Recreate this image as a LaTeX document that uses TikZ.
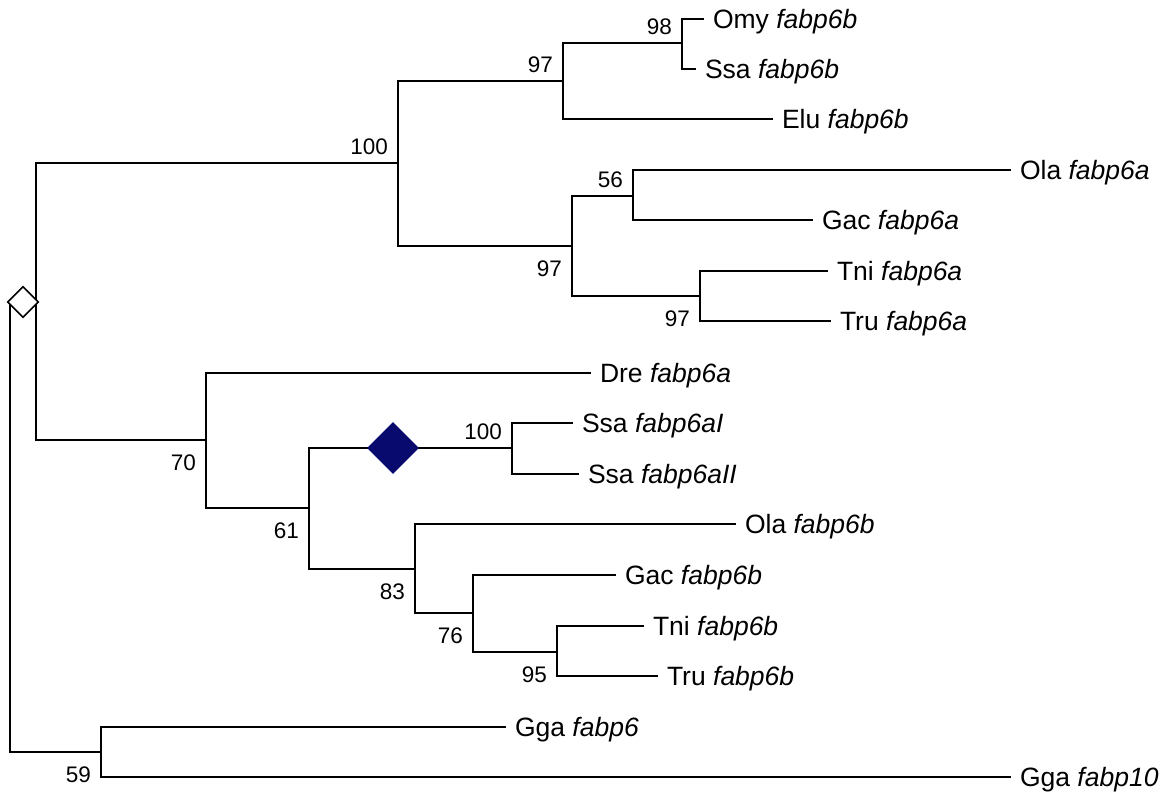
\documentclass[tikz,border=0pt]{standalone}
\usepackage{fontspec}
\setmainfont{Liberation Sans}
\usetikzlibrary{shapes.geometric}
\definecolor{navy}{RGB}{8,10,110}
\tikzset{
  br/.style={line width=2pt, line cap=rect},
  leaf/.style={anchor=west, inner sep=0pt, outer xsep=10pt, outer ysep=0pt,
    font=\fontsize{26.5}{30}\selectfont, text height=19pt, text depth=0pt},
  bsabove/.style={anchor=south east, inner sep=0pt, xshift=-10pt, yshift=8pt,
    font=\fontsize{22.5}{26}\selectfont, text height=16pt, text depth=0pt},
  bsbelow/.style={anchor=north east, inner sep=0pt, xshift=-10pt, yshift=-14pt,
    font=\fontsize{22.5}{26}\selectfont, text height=16pt, text depth=0pt},
  dup/.style={diamond, inner sep=0pt, minimum width=52pt, minimum height=52pt, fill=navy},
  wdup/.style={diamond, inner sep=0pt, minimum width=31pt, minimum height=31pt, fill=white, draw=black, line width=1.6pt}
}
\begin{document}
\begin{tikzpicture}[x=1pt,y=-1pt]
\useasboundingbox[fill=white] (0,0) rectangle (1169,795);
% internal nodes (x, y of parent branch)
\coordinate (root) at (10,302);
\coordinate (up) at (36,302);
\coordinate (A) at (398,163);
\coordinate (A1) at (563,81);
\coordinate (A11) at (682,43);
\coordinate (A2) at (572,246);
\coordinate (A21) at (633,196);
\coordinate (A22) at (700,296);
\coordinate (B) at (206,440);
\coordinate (B2) at (309,508);
\coordinate (B21) at (512,448);
\coordinate (B22) at (415,569);
\coordinate (B221) at (473,613);
\coordinate (B2211) at (557,652);
\coordinate (G) at (101,752);
% leaves
\node[leaf] (omy) at (703,19) {Omy \textit{fabp6b}};
\node[leaf] (ssab) at (695,69) {Ssa \textit{fabp6b}};
\node[leaf] (elu) at (772,119) {Elu \textit{fabp6b}};
\node[leaf] (olaa) at (1010,170) {Ola \textit{fabp6a}};
\node[leaf] (gaca) at (812,220) {Gac \textit{fabp6a}};
\node[leaf] (tnia) at (827,271) {Tni \textit{fabp6a}};
\node[leaf] (trua) at (830,321) {Tru \textit{fabp6a}};
\node[leaf] (dre) at (590,373) {Dre \textit{fabp6a}};
\node[leaf] (ssaI) at (572,423) {Ssa \textit{fabp6aI}};
\node[leaf] (ssaII) at (578,474) {Ssa \textit{fabp6aII}};
\node[leaf] (olab) at (735,524) {Ola \textit{fabp6b}};
\node[leaf] (gacb) at (615,575) {Gac \textit{fabp6b}};
\node[leaf] (tnib) at (643,626) {Tni \textit{fabp6b}};
\node[leaf] (trub) at (657,676) {Tru \textit{fabp6b}};
\node[leaf] (gga6) at (505,727) {Gga \textit{fabp6}};
\node[leaf] (gga10) at (1010,777) {Gga \textit{fabp10}};
% branches
\draw[br] (root) |- (G);
\draw[br] (root) -- (up);
\draw[br] (up) |- (A);
\draw[br] (up) |- (B);
\draw[br] (A) |- (A1);
\draw[br] (A) |- (A2);
\draw[br] (A1) |- (A11);
\draw[br] (A1) |- (elu.west);
\draw[br] (A11) |- (omy.west);
\draw[br] (A11) |- (ssab.west);
\draw[br] (A2) |- (A21);
\draw[br] (A2) |- (A22);
\draw[br] (A21) |- (olaa.west);
\draw[br] (A21) |- (gaca.west);
\draw[br] (A22) |- (tnia.west);
\draw[br] (A22) |- (trua.west);
\draw[br] (B) |- (dre.west);
\draw[br] (B) |- (B2);
\draw[br] (B2) |- (B21);
\draw[br] (B2) |- (B22);
\draw[br] (B21) |- (ssaI.west);
\draw[br] (B21) |- (ssaII.west);
\draw[br] (B22) |- (olab.west);
\draw[br] (B22) |- (B221);
\draw[br] (B221) |- (gacb.west);
\draw[br] (B221) |- (B2211);
\draw[br] (B2211) |- (tnib.west);
\draw[br] (B2211) |- (trub.west);
\draw[br] (G) |- (gga6.west);
\draw[br] (G) |- (gga10.west);
% duplication markers
\node[wdup] (wd) at (23,302) {};
\node[dup] (bd) at (393,448) {};
% bootstrap values
\node[bsabove] (lA) at (A) {100};
\node[bsabove] (lA1) at (A1) {97};
\node[bsabove] (lA11) at (A11) {98};
\node[bsabove] (lA21) at (A21) {56};
\node[bsabove] (lB21) at (B21) {100};
\node[bsbelow] (lA2) at (A2) {97};
\node[bsbelow] (lA22) at (A22) {97};
\node[bsbelow] (lB) at (B) {70};
\node[bsbelow] (lB2) at (B2) {61};
\node[bsbelow] (lB22) at (B22) {83};
\node[bsbelow] (lB221) at (B221) {76};
\node[bsbelow] (lB2211) at (B2211) {95};
\node[bsbelow] (lG) at (G) {59};
\end{tikzpicture}
\end{document}
